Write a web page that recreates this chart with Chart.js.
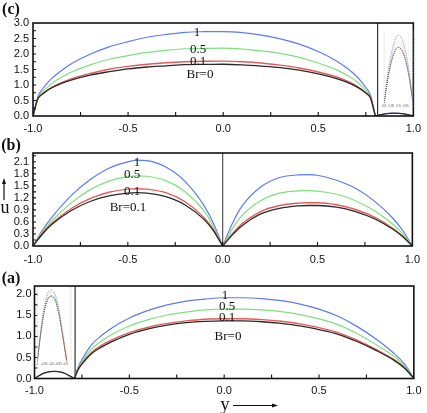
<!DOCTYPE html>
<html>
<head>
<meta charset="utf-8">
<script src="https://cdn.jsdelivr.net/npm/chart.js@4.4.0/dist/chart.umd.min.js"></script>
<style>
  body { margin: 0; background: #fff; width: 427px; height: 413px; position: relative; overflow: hidden; font-family: "Liberation Serif", "DejaVu Serif", serif; }
  canvas { position: absolute; }
  .t { position: absolute; white-space: nowrap; line-height: 1; transform: translate(-50%, -50%); color: #111; }
  .p { font-weight: bold; font-size: 16px; }
  .c { font-size: 13px; }
  svg { position: absolute; left: 0; top: 0; }
</style>
</head>
<body>
<canvas id="chartC" style="left:0;top:0" width="427" height="140"></canvas>
<canvas id="chartB" style="left:0;top:140px" width="427" height="130"></canvas>
<canvas id="chartA" style="left:0;top:270px" width="427" height="143"></canvas>
<canvas id="insetC" style="left:381px;top:26px" width="35" height="86"></canvas>
<canvas id="insetA" style="left:35px;top:283px" width="38" height="85"></canvas>

<div class="t p" style="left:11px;top:9px">(c)</div>
<div class="t p" style="left:11px;top:145px">(b)</div>
<div class="t p" style="left:11px;top:278px">(a)</div>

<div class="t c" style="left:197px;top:31px">1</div>
<div class="t c" style="left:198px;top:48px">0.5</div>
<div class="t c" style="left:198px;top:60px">0.1</div>
<div class="t c" style="left:200px;top:73px">Br=0</div>

<div class="t c" style="left:137px;top:161px">1</div>
<div class="t c" style="left:132px;top:173px">0.5</div>
<div class="t c" style="left:132px;top:190px">0.1</div>
<div class="t c" style="left:128px;top:206px">Br=0.1</div>

<div class="t c" style="left:225px;top:294px">1</div>
<div class="t c" style="left:227px;top:305px">0.5</div>
<div class="t c" style="left:227px;top:316px">0.1</div>
<div class="t c" style="left:228px;top:335px">Br=0</div>

<div class="t" style="left:5px;top:207px;font-size:18px">u</div>
<div class="t" style="left:225px;top:403px;font-size:19px">y</div>
<svg width="427" height="413">
  <line x1="4" y1="200" x2="4" y2="183" stroke="#111" stroke-width="1.2"/>
  <polygon points="4,178 2,184 6,184" fill="#111"/>
  <line x1="233" y1="405.5" x2="273" y2="405.5" stroke="#111" stroke-width="1.2"/>
  <polygon points="278,405.5 272,403.5 272,407.5" fill="#111"/>
</svg>

<script>
// categories / tick labels
var xTicks = [-1, -0.5, 0, 0.5, 1];
var yTicksC = [0, 0.5, 1, 1.5, 2, 2.5, 3];
var yTicksB = [0, 0.3, 0.6, 0.9, 1.2, 1.5, 1.8, 2.1];
var yTicksA = [0, 0.5, 1, 1.5, 2];

// panel (c)
var xC = [-1, -0.975, -0.95, -0.925, -0.9, -0.85, -0.8, -0.7, -0.6, -0.5, -0.4, -0.3, -0.2, -0.1, 0, 0.1, 0.2, 0.3, 0.4, 0.5, 0.6, 0.65, 0.7, 0.725, 0.75, 0.775, 0.8];
var blueC = [0, 0.62, 0.87, 1.06, 1.22, 1.47, 1.68, 1.99, 2.23, 2.40, 2.54, 2.63, 2.70, 2.72, 2.725, 2.69, 2.61, 2.49, 2.32, 2.08, 1.76, 1.55, 1.29, 1.12, 0.92, 0.66, 0];
var greenC = [0, 0.58, 0.78, 0.93, 1.06, 1.25, 1.41, 1.65, 1.83, 1.95, 2.05, 2.12, 2.17, 2.18, 2.19, 2.16, 2.10, 2.02, 1.89, 1.71, 1.48, 1.32, 1.12, 0.98, 0.82, 0.61, 0];
var redC = [0, 0.54, 0.71, 0.83, 0.93, 1.08, 1.20, 1.37, 1.51, 1.60, 1.67, 1.72, 1.75, 1.765, 1.77, 1.75, 1.71, 1.64, 1.55, 1.42, 1.25, 1.13, 0.97, 0.87, 0.74, 0.57, 0];
var blackC = [0, 0.55, 0.71, 0.82, 0.91, 1.05, 1.16, 1.32, 1.43, 1.52, 1.58, 1.62, 1.66, 1.665, 1.67, 1.65, 1.61, 1.56, 1.48, 1.36, 1.20, 1.09, 0.95, 0.86, 0.74, 0.58, 0];
var xCs = [0.8, 0.85, 0.9, 0.95, 1.0];
var archC = [0, 0.07, 0.09, 0.07, 0];
var wallC = 0.812;

// panel (b)
var xBL = [-1, -0.95, -0.9, -0.8, -0.7, -0.6, -0.5, -0.45, -0.4, -0.3, -0.2, -0.1, -0.05, 0];
var blueBL = [0, 0.40, 0.72, 1.25, 1.65, 1.94, 2.10, 2.14, 2.13, 1.97, 1.62, 1.02, 0.58, 0];
var greenBL = [0, 0.36, 0.63, 1.07, 1.40, 1.62, 1.73, 1.75, 1.74, 1.63, 1.36, 0.88, 0.50, 0];
var redBL = [0, 0.32, 0.57, 0.93, 1.18, 1.34, 1.42, 1.43, 1.42, 1.33, 1.11, 0.72, 0.42, 0];
var blackBL = [0, 0.30, 0.54, 0.88, 1.11, 1.25, 1.32, 1.33, 1.32, 1.23, 1.03, 0.67, 0.39, 0];
var xBR = [0, 0.05, 0.1, 0.2, 0.3, 0.4, 0.45, 0.5, 0.6, 0.7, 0.8, 0.9, 0.95, 1];
var blueBR = [0, 0.55, 0.98, 1.47, 1.71, 1.775, 1.78, 1.765, 1.64, 1.44, 1.12, 0.68, 0.38, 0];
var greenBR = [0, 0.42, 0.75, 1.13, 1.32, 1.375, 1.38, 1.37, 1.29, 1.13, 0.88, 0.53, 0.30, 0];
var redBR = [0, 0.30, 0.55, 0.86, 1.01, 1.07, 1.08, 1.08, 1.03, 0.91, 0.72, 0.43, 0.24, 0];
var blackBR = [0, 0.27, 0.50, 0.80, 0.94, 1.00, 1.01, 1.01, 0.97, 0.86, 0.68, 0.41, 0.23, 0];
var wallB = 0.0;

// panel (a)
var xA = [-0.79, -0.77, -0.75, -0.7, -0.65, -0.6, -0.5, -0.4, -0.3, -0.2, -0.1, 0, 0.1, 0.2, 0.3, 0.4, 0.5, 0.6, 0.7, 0.8, 0.9, 0.95, 0.975, 1];
var blueA = [0, 0.27, 0.45, 0.80, 1.01, 1.18, 1.44, 1.62, 1.75, 1.84, 1.89, 1.92, 1.92, 1.90, 1.85, 1.77, 1.65, 1.48, 1.24, 0.94, 0.58, 0.35, 0.19, 0];
var greenA = [0, 0.24, 0.40, 0.70, 0.88, 1.03, 1.25, 1.40, 1.51, 1.58, 1.63, 1.65, 1.65, 1.63, 1.59, 1.52, 1.42, 1.28, 1.07, 0.81, 0.51, 0.30, 0.16, 0];
var redA = [0, 0.22, 0.36, 0.62, 0.78, 0.90, 1.09, 1.22, 1.31, 1.37, 1.41, 1.42, 1.42, 1.40, 1.36, 1.30, 1.21, 1.09, 0.91, 0.69, 0.44, 0.26, 0.14, 0];
var blackA = [0, 0.21, 0.34, 0.59, 0.74, 0.86, 1.05, 1.18, 1.27, 1.33, 1.36, 1.37, 1.37, 1.35, 1.31, 1.25, 1.16, 1.05, 0.88, 0.67, 0.42, 0.25, 0.13, 0];
var xAs = [-1, -0.95, -0.9, -0.85, -0.79];
var archA = [0, 0.13, 0.17, 0.14, 0];
var wallA = -0.786;

// insets
var xIc = [0.8, 0.825, 0.85, 0.875, 0.9, 0.925, 0.95, 0.975, 1.0];
var xIcTicks = [0.8, 0.85, 0.9, 0.95, 1.0];
var blueIc = [0, 0.040, 0.068, 0.086, 0.093, 0.087, 0.070, 0.041, 0];
var greenIc = [0, 0.036, 0.062, 0.078, 0.084, 0.079, 0.063, 0.037, 0];
var redIc = [0, 0.033, 0.057, 0.072, 0.077, 0.072, 0.058, 0.034, 0];
var blackIc = [0, 0.032, 0.056, 0.071, 0.076, 0.071, 0.057, 0.033, 0];
var xIa = [-1, -0.975, -0.95, -0.925, -0.9, -0.875, -0.85, -0.825, -0.79];
var xIaTicks = [-1, -0.95, -0.9, -0.85, -0.8];
var blueIa = [0, 0.085, 0.150, 0.184, 0.192, 0.182, 0.148, 0.090, 0];
var greenIa = [0, 0.081, 0.144, 0.177, 0.186, 0.176, 0.143, 0.087, 0];
var redIa = [0, 0.077, 0.137, 0.169, 0.177, 0.168, 0.136, 0.082, 0];
var blackIa = [0, 0.076, 0.135, 0.167, 0.175, 0.166, 0.134, 0.081, 0];

var BLUE = '#5c7cf2', GREEN = '#7fe07f', RED = '#e65a5a', BLACK = '#2a2a2a';

function pts(xs, ys) {
  return xs.map(function (x, i) { return { x: x, y: ys[i] }; });
}

function serie(xs, ys, color, width, dash) {
  return {
    data: pts(xs, ys),
    showLine: true,
    borderColor: color,
    borderWidth: width || 1.2,
    borderDash: dash || [],
    pointRadius: 0,
    cubicInterpolationMode: 'monotone',
    fill: false
  };
}

function wall(x, top, color) {
  return { data: [{ x: x, y: 0 }, { x: x, y: top }], showLine: true, borderColor: color || '#444', borderWidth: 1.2, pointRadius: 0 };
}

// frame + ticks pointing inwards
var framePlugin = {
  id: 'frame',
  afterDraw: function (chart) {
    var o = chart.options.plugins.frame;
    if (!o) return;
    var a = chart.chartArea, ctx = chart.ctx;
    var xs = chart.scales.x, ys = chart.scales.y;
    ctx.save();
    if (o.inset) {
      ctx.strokeStyle = '#bbb';
      ctx.lineWidth = 0.6;
      ctx.setLineDash([1, 1]);
      ctx.beginPath();
      ctx.moveTo(a.left, a.top); ctx.lineTo(a.left, a.bottom);
      ctx.moveTo(a.right, a.top); ctx.lineTo(a.right, a.bottom);
      ctx.stroke();
      ctx.restore();
      return;
    }
    ctx.strokeStyle = '#111';
    ctx.lineWidth = 1.6;
    ctx.strokeRect(a.left, a.top, a.right - a.left, a.bottom - a.top);
    ctx.lineWidth = 1.1;
    ctx.beginPath();
    var xt = xs.ticks.map(function (t) { return t.value; });
    for (var i = 0; i < xt.length; i++) {
      var marks = [xt[i]];
      if (i < xt.length - 1) marks.push((xt[i] + xt[i + 1]) / 2);
      marks.forEach(function (v) {
        var px = xs.getPixelForValue(v);
        if (px <= a.left + 1 || px >= a.right - 1) return;
        ctx.moveTo(px, a.bottom); ctx.lineTo(px, a.bottom - 4);
      });
    }
    var yt = ys.ticks.map(function (t) { return t.value; });
    for (var j = 0; j < yt.length; j++) {
      var ym = [yt[j]];
      if (j < yt.length - 1) ym.push((yt[j] + yt[j + 1]) / 2);
      else ym.push(yt[j] + (yt[j] - yt[j - 1]) / 2);
      ym.forEach(function (v) {
        var py = ys.getPixelForValue(v);
        if (py <= a.top + 1 || py >= a.bottom - 1) return;
        ctx.moveTo(a.left, py); ctx.lineTo(a.left + 3, py);
      });
    }
    ctx.stroke();
    ctx.restore();
  }
};

function panel(id, datasets, yMax, yTicks, pad, yWidth, xHeight, xPad, yPad) {
  new Chart(document.getElementById(id).getContext('2d'), {
    type: 'scatter',
    data: { datasets: datasets },
    plugins: [framePlugin],
    options: {
      responsive: false,
      animation: false,
      events: [],
      layout: { padding: pad, autoPadding: false },
      plugins: { legend: { display: false }, tooltip: { enabled: false }, frame: { inset: false } },
      scales: {
        x: {
          type: 'linear', min: -1, max: 1,
          grid: { display: false, drawTicks: false },
          border: { display: false },
          afterBuildTicks: function (axis) { axis.ticks = xTicks.map(function (v) { return { value: v }; }); },
          afterFit: function (axis) { axis.height = xHeight; },
          ticks: {
            padding: xPad, color: '#111', maxRotation: 0, autoSkip: false,
            font: { family: 'Liberation Sans', size: 11 },
            callback: function (v) { return Number(v).toFixed(1); }
          }
        },
        y: {
          type: 'linear', min: 0, max: yMax,
          grid: { display: false, drawTicks: false },
          border: { display: false },
          afterBuildTicks: function (axis) { axis.ticks = yTicks.map(function (v) { return { value: v }; }); },
          afterFit: function (axis) { axis.width = yWidth; },
          ticks: {
            padding: yPad, color: '#111', autoSkip: false,
            font: { family: 'Liberation Sans', size: 11 },
            callback: function (v) { return Number(v).toFixed(1); }
          }
        }
      }
    }
  });
}

function inset(id, datasets, xMin, xMax, yMax, ticks, pad, xHeight) {
  new Chart(document.getElementById(id).getContext('2d'), {
    type: 'scatter',
    data: { datasets: datasets },
    plugins: [framePlugin],
    options: {
      responsive: false,
      animation: false,
      events: [],
      layout: { padding: pad, autoPadding: false },
      plugins: { legend: { display: false }, tooltip: { enabled: false }, frame: { inset: true } },
      scales: {
        x: {
          type: 'linear', min: xMin, max: xMax,
          grid: { display: false, drawTicks: false },
          border: { display: false },
          afterBuildTicks: function (axis) { axis.ticks = ticks.map(function (v) { return { value: v }; }); },
          afterFit: function (axis) { axis.height = xHeight; },
          ticks: {
            padding: 1, color: '#555', maxRotation: 0, autoSkip: false,
            font: { family: 'Liberation Sans', size: 3 },
            callback: function (v) { return String(v); }
          }
        },
        y: {
          type: 'linear', min: 0, max: yMax, display: false
        }
      }
    }
  });
}

panel('chartC', [
  serie(xC, blackC, BLACK, 1.3),
  serie(xC, redC, RED, 1.4),
  serie(xC, greenC, GREEN, 1.2),
  serie(xC, blueC, BLUE, 1.2),
  serie(xCs, archC, BLACK, 1.3),
  serie(xCs, archC, BLUE, 1.0),
  wall(wallC, 3, '#333')
], 3, yTicksC, { left: 0, right: 11, top: 23, bottom: 0 }, 33, 24, 6, 4);

panel('chartB', [
  serie(xBL, blackBL, BLACK, 1.3),
  serie(xBL, redBL, RED, 1.4),
  serie(xBL, greenBL, GREEN, 1.2),
  serie(xBL, blueBL, BLUE, 1.2),
  serie(xBR, blackBR, BLACK, 1.3),
  serie(xBR, redBR, RED, 1.4),
  serie(xBR, greenBR, GREEN, 1.2),
  serie(xBR, blueBR, BLUE, 1.2),
  wall(wallB, 2.32, '#555')
], 2.32, yTicksB, { left: 0, right: 11, top: 13, bottom: 0 }, 33, 24, 7, 4);

panel('chartA', [
  serie(xA, blackA, BLACK, 1.3),
  serie(xA, redA, RED, 1.4),
  serie(xA, greenA, GREEN, 1.2),
  serie(xA, blueA, BLUE, 1.2),
  serie(xAs, archA, BLACK, 1.3),
  serie(xAs, archA, BLUE, 1.0),
  wall(wallA, 2.2, '#333')
], 2.2, yTicksA, { left: 0, right: 9, top: 16, bottom: 0 }, 34.5, 34.5, 5.5, 3);

inset('insetC', [
  serie(xIc, blackIc, BLACK, 0.8, [1, 1]),
  serie(xIc, redIc, RED, 0.8, [1, 1]),
  serie(xIc, greenIc, GREEN, 0.8, [1, 1]),
  serie(xIc, blueIc, BLUE, 0.8, [1, 1])
], 0.8, 1.0, 0.1, xIcTicks, { left: 2, right: 3, top: 4, bottom: 0 }, 9);

inset('insetA', [
  serie(xIa, blackIa, BLACK, 0.8, [1, 1]),
  serie(xIa, redIa, RED, 0.8, [1, 1]),
  serie(xIa, greenIa, GREEN, 0.8, [1, 1]),
  serie(xIa, blueIa, BLUE, 0.8, [1, 1])
], -1.0, -0.76, 0.2, xIaTicks, { left: 2, right: 2, top: 4, bottom: 0 }, 6.5);
</script>
</body>
</html>
